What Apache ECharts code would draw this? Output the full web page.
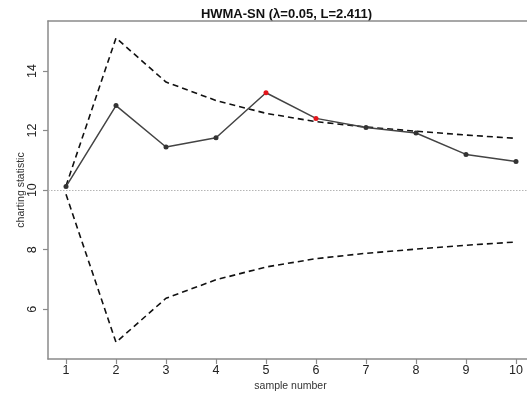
<!DOCTYPE html>
<html>
<head>
<meta charset="utf-8">
<script src="https://cdn.jsdelivr.net/npm/echarts@6/dist/echarts.min.js"></script>
<style>
html,body{margin:0;padding:0;background:#fff;}
#chart{width:527px;height:395px;}
</style>
</head>
<body>
<div id="chart"></div>
<script>
// Data
var samples = [1, 2, 3, 4, 5, 6, 7, 8, 9, 10];
var statistic = [10.12, 12.84, 11.45, 11.76, 13.27, 12.41, 12.10, 11.92, 11.20, 10.96];
var ucl = [10.14, 15.11, 13.63, 13.01, 12.58, 12.30, 12.12, 11.98, 11.85, 11.74];
var lcl = [9.86, 4.89, 6.37, 6.99, 7.42, 7.70, 7.88, 8.02, 8.15, 8.26];
var centerLine = 10;
var outOfControl = [5, 6];
var xTicks = [1, 2, 3, 4, 5, 6, 7, 8, 9, 10];
var yTicks = [6, 8, 10, 12, 14];
var titleText = 'HWMA-SN (\u03bb=0.05, L=2.411)';

function pairs(ys) {
  return samples.map(function (x, i) { return [x, ys[i]]; });
}

var statData = samples.map(function (x, i) {
  var red = outOfControl.indexOf(x) >= 0;
  return { value: [x, statistic[i]], itemStyle: { color: red ? '#e3151b' : '#333333' } };
});

var chart = echarts.init(document.getElementById('chart'), null, { renderer: 'canvas' });
var axisGrey = '#8a8a8a';
var font = 'Liberation Sans, Arial, sans-serif';

chart.setOption({
  animation: false,
  backgroundColor: '#ffffff',
  graphic: [{
    type: 'text',
    x: 286.5,
    y: 14,
    style: {
      text: titleText,
      textAlign: 'center',
      textVerticalAlign: 'middle',
      font: 'bold 13px ' + font,
      fill: '#111'
    }
  }],
  grid: { left: 48, right: 0, top: 21, bottom: 36, containLabel: false, outerBoundsMode: 'none' },
  xAxis: [{
    type: 'value',
    min: 0.64,
    max: 10.22,
    name: 'sample number',
    nameLocation: 'middle',
    nameGap: 22,
    nameMoveOverlap: false,
    nameTextStyle: { fontFamily: font, fontSize: 10.5, color: '#333', padding: [0, 0, 0, 6] },
    axisLine: { show: true, onZero: false, lineStyle: { color: axisGrey, width: 1.5 } },
    axisTick: { show: true, length: 5, customValues: xTicks, lineStyle: { color: axisGrey, width: 1.2 } },
    axisLabel: { customValues: xTicks, margin: 5, fontFamily: font, fontSize: 12.5, color: '#222' },
    splitLine: { show: false }
  }, {
    type: 'value',
    position: 'top',
    min: 0.64,
    max: 10.22,
    axisLine: { show: true, onZero: false, lineStyle: { color: axisGrey, width: 1.5 } },
    axisTick: { show: false },
    axisLabel: { show: false },
    splitLine: { show: false }
  }],
  yAxis: {
    type: 'value',
    min: 4.33,
    max: 15.68,
    name: 'charting statistic',
    nameLocation: 'middle',
    nameGap: 21,
    nameMoveOverlap: false,
    nameTextStyle: { fontFamily: font, fontSize: 10.5, color: '#333' },
    axisLine: { show: true, onZero: false, lineStyle: { color: axisGrey, width: 1.5 } },
    axisTick: { show: true, length: 5, customValues: yTicks, lineStyle: { color: axisGrey, width: 1.2 } },
    axisLabel: { customValues: yTicks, rotate: 90, margin: 9, fontFamily: font, fontSize: 12.5, color: '#222' },
    splitLine: { show: false }
  },
  series: [{
    type: 'line',
    name: 'UCL',
    data: pairs(ucl),
    symbol: 'none',
    lineStyle: { color: '#111', width: 1.6, type: [6, 4] },
    z: 2
  }, {
    type: 'line',
    name: 'LCL',
    data: pairs(lcl),
    symbol: 'none',
    lineStyle: { color: '#111', width: 1.6, type: [6, 4] },
    z: 2
  }, {
    type: 'line',
    name: 'statistic',
    data: statData,
    symbol: 'circle',
    symbolSize: 5,
    lineStyle: { color: '#444', width: 1.5 },
    z: 3,
    markLine: {
      silent: true,
      symbol: 'none',
      label: { show: false },
      lineStyle: { color: '#b5b5b5', width: 1, type: [1.5, 1.5] },
      data: [{ yAxis: centerLine }]
    }
  }]
});
</script>
</body>
</html>
